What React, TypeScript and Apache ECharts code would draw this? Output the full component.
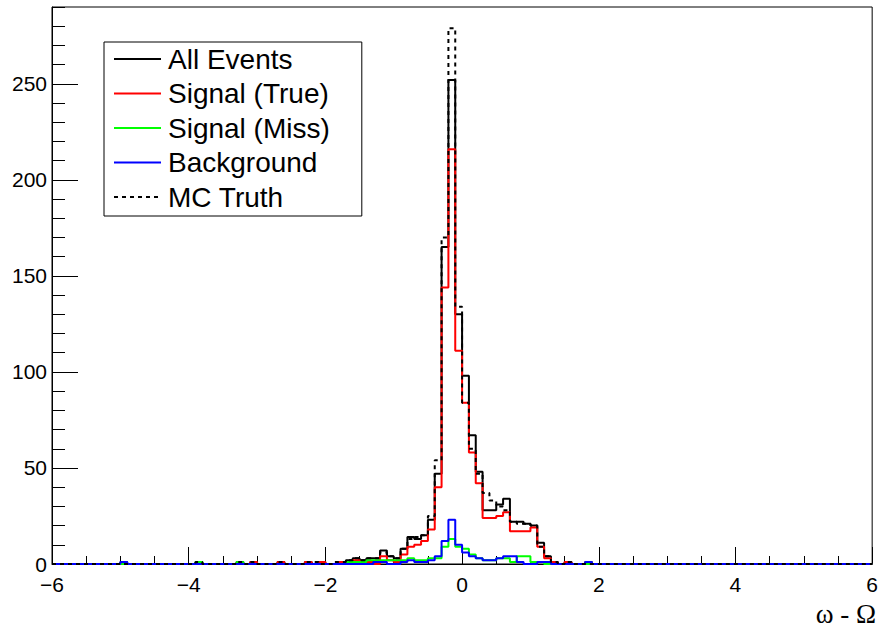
import React, { useEffect, useRef } from "react";
import * as echarts from "echarts";

// Histogram binning: 120 bins of width 0.1 from -6 to 6
const binLow = -6;
const binWidth = 0.1;
const nBins = 120;

const seriesNames = ["All Events", "Signal (True)", "Signal (Miss)", "Background", "MC Truth"];
const seriesColors = ["#000000", "#ff0000", "#00ff00", "#0000ff", "#000000"];

const allEvents = [
  0, 0, 0, 0, 0, 0, 0, 0, 0, 0,
  1, 0, 0, 0, 0, 0, 0, 0, 0, 0,
  0, 1, 0, 0, 0, 0, 0, 1, 0, 1,
  0, 0, 0, 1, 0, 0, 0, 1, 0, 1,
  0, 0, 1, 2, 3, 2, 3, 3, 7, 4,
  3, 8, 14, 13, 15, 23, 47, 165, 252, 130,
  98, 67, 48, 28, 28, 31, 34, 22, 22, 21,
  20, 11, 4, 1, 0, 1, 0, 0, 1, 0,
  0, 0, 0, 0, 0, 0, 0, 0, 0, 0,
  0, 0, 0, 0, 0, 0, 0, 0, 0, 0,
  0, 0, 0, 0, 0, 0, 0, 0, 0, 0,
  0, 0, 0, 0, 0, 0, 0, 0, 0, 0,
];

const signalTrue = [
  0, 0, 0, 0, 0, 0, 0, 0, 0, 0,
  0, 0, 0, 0, 0, 0, 0, 0, 0, 0,
  0, 0, 0, 0, 0, 0, 0, 0, 0, 1,
  0, 0, 0, 1, 0, 0, 0, 1, 0, 1,
  0, 0, 1, 1, 2, 1, 1, 0, 4, 2,
  1, 5, 9, 10, 12, 18, 40, 144, 216, 111,
  84, 58, 42, 24, 24, 25, 27, 17, 17, 17,
  19, 9, 3, 1, 0, 1, 0, 0, 0, 0,
  0, 0, 0, 0, 0, 0, 0, 0, 0, 0,
  0, 0, 0, 0, 0, 0, 0, 0, 0, 0,
  0, 0, 0, 0, 0, 0, 0, 0, 0, 0,
  0, 0, 0, 0, 0, 0, 0, 0, 0, 0,
];

const signalMiss = [
  0, 0, 0, 0, 0, 0, 0, 0, 0, 0,
  0, 0, 0, 0, 0, 0, 0, 0, 0, 0,
  0, 1, 0, 0, 0, 0, 0, 1, 0, 0,
  0, 0, 0, 0, 0, 0, 0, 0, 0, 0,
  0, 0, 0, 1, 1, 1, 2, 2, 2, 2,
  2, 2, 3, 2, 2, 3, 3, 9, 13, 9,
  8, 5, 3, 2, 2, 3, 3, 1, 4, 4,
  1, 1, 0, 0, 0, 0, 0, 0, 0, 0,
  0, 0, 0, 0, 0, 0, 0, 0, 0, 0,
  0, 0, 0, 0, 0, 0, 0, 0, 0, 0,
  0, 0, 0, 0, 0, 0, 0, 0, 0, 0,
  0, 0, 0, 0, 0, 0, 0, 0, 0, 0,
];

const background = [
  0, 0, 0, 0, 0, 0, 0, 0, 0, 0,
  1, 0, 0, 0, 0, 0, 0, 0, 0, 0,
  0, 0, 0, 0, 0, 0, 0, 0, 0, 0,
  0, 0, 0, 0, 0, 0, 0, 0, 0, 0,
  0, 0, 0, 0, 0, 0, 0, 1, 1, 0,
  0, 1, 2, 1, 1, 2, 4, 12, 23, 10,
  6, 4, 3, 2, 2, 3, 4, 4, 1, 0,
  0, 1, 1, 0, 0, 0, 0, 0, 1, 0,
  0, 0, 0, 0, 0, 0, 0, 0, 0, 0,
  0, 0, 0, 0, 0, 0, 0, 0, 0, 0,
  0, 0, 0, 0, 0, 0, 0, 0, 0, 0,
  0, 0, 0, 0, 0, 0, 0, 0, 0, 0,
];

const mcTruth = [
  0, 0, 0, 0, 0, 0, 0, 0, 0, 0,
  0, 0, 0, 0, 0, 0, 0, 0, 0, 0,
  0, 1, 0, 0, 0, 0, 0, 1, 0, 1,
  0, 0, 0, 1, 0, 0, 0, 1, 1, 0,
  0, 1, 1, 2, 3, 2, 3, 3, 6, 4,
  3, 8, 13, 14, 15, 25, 54, 170, 279, 134,
  84, 60, 47, 37, 33, 30, 28, 22, 21, 21,
  20, 9, 4, 1, 0, 1, 0, 0, 0, 0,
  0, 0, 0, 0, 0, 0, 0, 0, 0, 0,
  0, 0, 0, 0, 0, 0, 0, 0, 0, 0,
  0, 0, 0, 0, 0, 0, 0, 0, 0, 0,
  0, 0, 0, 0, 0, 0, 0, 0, 0, 0,
];

const histograms = [allEvents, signalTrue, signalMiss, background, mcTruth];

function toSteps(vals: number[]): number[][] {
  const pts = vals.map((v, i) => [+(binLow + i * binWidth).toFixed(3), v]);
  pts.push([+(binLow + nBins * binWidth).toFixed(3), vals[vals.length - 1]]);
  return pts;
}

const FONT = "Liberation Sans";

export default function App() {
  const ref = useRef<HTMLDivElement>(null);
  useEffect(() => {
    if (!ref.current) return;
    const chart = echarts.init(ref.current, null, { renderer: "svg" });
    const series = histograms.map((h, i) => ({
      name: seriesNames[i],
      type: "line",
      step: "end",
      symbol: "none",
      showSymbol: false,
      xAxisIndex: 0,
      yAxisIndex: 0,
      data: toSteps(h),
      lineStyle: {
        color: seriesColors[i],
        width: 2,
        type: i === 4 ? [4, 4] : "solid",
        cap: "butt",
      },
      itemStyle: { color: seriesColors[i] },
      z: 2 + i,
      silent: true,
    }));
    chart.setOption({
      animation: false,
      backgroundColor: "#ffffff",
      grid: {
        left: 52,
        right: 4,
        top: 7,
        bottom: 64,
        show: true,
        borderColor: "#000",
        borderWidth: 1,
        backgroundColor: "transparent",
      },
      xAxis: {
        type: "value",
        min: -6,
        max: 6,
        interval: 2,
        axisLine: { show: true, onZero: false, lineStyle: { color: "#000", width: 1 } },
        axisTick: { show: true, inside: true, length: 17, lineStyle: { color: "#000", width: 1 } },
        minorTick: { show: true, splitNumber: 4, length: 8, lineStyle: { color: "#000", width: 1 } },
        splitLine: { show: false },
        minorSplitLine: { show: false },
        axisLabel: {
          color: "#000",
          fontSize: 21,
          lineHeight: 16,
          fontFamily: FONT,
          margin: 12,
          formatter: (v: number) => String(v).replace("-", "\u2212"),
        },
      },
      yAxis: [
        {
          type: "value",
          min: 0,
          max: 290,
          interval: 50,
          axisLine: { show: true, onZero: false, lineStyle: { color: "#000", width: 1 } },
          axisTick: { show: true, inside: true, length: 26, lineStyle: { color: "#000", width: 1 } },
          minorTick: { show: false },
          splitLine: { show: false },
          axisLabel: {
            color: "#000",
            fontSize: 21,
            lineHeight: 16,
            fontFamily: FONT,
            margin: 5,
            showMaxLabel: false,
          },
        },
        {
          type: "value",
          min: 0,
          max: 290,
          interval: 10,
          position: "left",
          axisLine: { show: false, onZero: false },
          axisTick: { show: true, inside: true, length: 13, lineStyle: { color: "#000", width: 1 } },
          splitLine: { show: false },
          axisLabel: { show: false },
        },
      ],
      legend: {
        orient: "vertical",
        left: 104,
        top: 42,
        itemWidth: 47,
        itemHeight: 14,
        itemGap: 4.5,
        padding: [2, 32, 4, 9],
        borderColor: "#000",
        borderWidth: 1,
        backgroundColor: "#fff",
        selectedMode: false,
        itemStyle: { opacity: 0, borderWidth: 0 },
        textStyle: { fontSize: 28, fontFamily: FONT, color: "#000", lineHeight: 30, padding: [0, 0, 0, 2] },
        data: seriesNames,
      },
      graphic: [
        {
          type: "text",
          x: 876,
          y: 614,
          style: {
            text: "\u03c9 - \u03a9",
            font: '27px "Liberation Serif"',
            fill: "#000",
            align: "right",
            verticalAlign: "middle",
          },
        },
      ],
      series,
    });
    return () => chart.dispose();
  }, []);
  return (
    <div
      ref={ref}
      style={{ position: "fixed", left: 0, top: 0, width: 881, height: 628, background: "#fff" }}
    />
  );
}
